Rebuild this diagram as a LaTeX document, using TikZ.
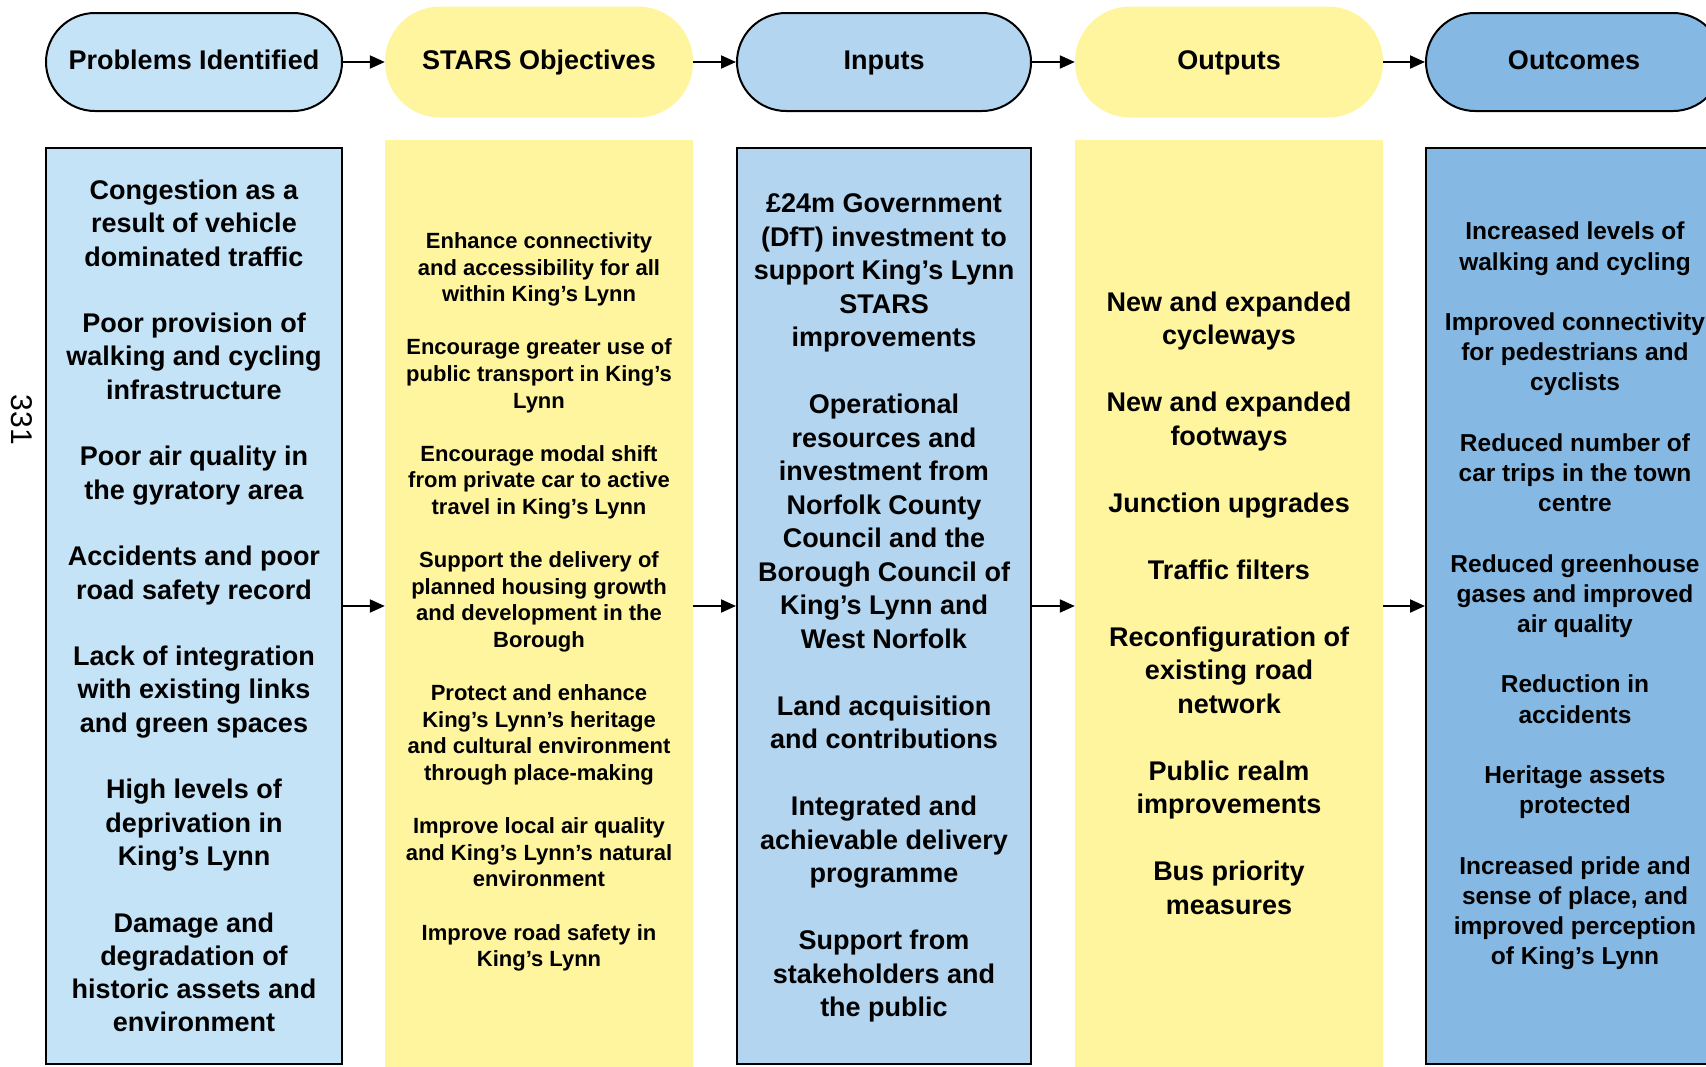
\documentclass[tikz,border=0pt]{standalone}
\usepackage{fontspec}
\setmainfont{Liberation Sans}
\usetikzlibrary{arrows.meta}
\definecolor{pblue}{HTML}{C4E3F6}
\definecolor{iblue}{HTML}{B3D5EF}
\definecolor{oblue}{HTML}{85B9E3}
\definecolor{syel}{HTML}{FFF59F}
\begin{document}
\begin{tikzpicture}[x=1pt,y=-1pt,
  pillbox/.style={draw=black,line width=2pt,inner sep=0pt,text height=20pt,text depth=6pt,font=\bfseries\fontsize{27}{33}\selectfont},
  ypill/.style={fill=syel,inner sep=0pt,text height=20pt,text depth=6pt,font=\bfseries\fontsize{27}{33}\selectfont},
  colbox/.style={draw=black,line width=2pt,inner sep=0pt},
  ycolbox/.style={fill=syel,inner sep=0pt},
  bigtext/.style={align=center,inner sep=0pt,font=\bfseries\fontsize{27}{33.3}\selectfont},
  smalltext/.style={align=center,inner sep=0pt,font=\bfseries\fontsize{22}{26.6}\selectfont},
  midtext/.style={align=center,inner sep=0pt,font=\bfseries\fontsize{24.5}{30.2}\selectfont},
  arr/.style={line width=2pt,-{Triangle[length=15pt,width=13pt]}}]
\useasboundingbox (0,0) rectangle (1706,1066);
\clip (0,0) rectangle (1706,1066);
% header pills
\node[pillbox,fill=pblue,minimum width=296pt,minimum height=98pt,rounded corners=49pt] (h1) at (194,62) {Problems Identified};
\node[ypill,minimum width=308pt,minimum height=111pt,rounded corners=55pt] (h2) at (539,62) {STARS Objectives};
\node[pillbox,fill=iblue,minimum width=294pt,minimum height=98pt,rounded corners=49pt] (h3) at (884,62) {Inputs};
\node[ypill,minimum width=308pt,minimum height=111pt,rounded corners=55pt] (h4) at (1229,62) {Outputs};
\node[pillbox,fill=oblue,minimum width=296pt,minimum height=98pt,rounded corners=49pt,text width=296pt,align=center] (h5) at (1574,62) {Outcomes};
\draw[arr] (h1.east) -- (h2.west);
\draw[arr] (h2.east) -- (h3.west);
\draw[arr] (h3.east) -- (h4.west);
\draw[arr] (h4.east) -- (h5.west);
% column boxes
\node[colbox,fill=pblue,minimum width=296pt,minimum height=916pt] (b1) at (194,606) {};
\node[ycolbox,minimum width=308pt,minimum height=932pt] (b2) at (539,606) {};
\node[colbox,fill=iblue,minimum width=294pt,minimum height=916pt] (b3) at (884,606) {};
\node[ycolbox,minimum width=308pt,minimum height=932pt] (b4) at (1229,606) {};
\node[colbox,fill=oblue,minimum width=296pt,minimum height=916pt] (b5) at (1574,606) {};
\draw[arr] (b1.east) -- (b2.west);
\draw[arr] (b2.east) -- (b3.west);
\draw[arr] (b3.east) -- (b4.west);
\draw[arr] (b4.east) -- (b5.west);
% column texts
\node[bigtext] (t1) at (194,606) {Congestion as a\\result of vehicle\\dominated traffic\\[33.3pt]
Poor provision of\\walking and cycling\\infrastructure\\[33.3pt]
Poor air quality in\\the gyratory area\\[33.3pt]
Accidents and poor\\road safety record\\[33.3pt]
Lack of integration\\with existing links\\and green spaces\\[33.3pt]
High levels of\\deprivation in\\King's Lynn\\[33.3pt]
Damage and\\degradation of\\historic assets and\\environment};
\node[smalltext] (t2) at (539,602) {Enhance connectivity\\and accessibility for all\\within King's Lynn\\[26.6pt]
Encourage greater use of\\public transport in King's\\Lynn\\[26.6pt]
Encourage modal shift\\from private car to active\\travel in King's Lynn\\[26.6pt]
Support the delivery of\\planned housing growth\\and development in the\\Borough\\[26.6pt]
Protect and enhance\\King's Lynn's heritage\\and cultural environment\\through place-making\\[26.6pt]
Improve local air quality\\and King's Lynn's natural\\environment\\[26.6pt]
Improve road safety in\\King's Lynn};
\node[bigtext,font=\bfseries\fontsize{27}{33.5}\selectfont] (t3) at (884,608) {£24m Government\\(DfT) investment to\\support King's Lynn\\STARS\\improvements\\[33.5pt]
Operational\\resources and\\investment from\\Norfolk County\\Council and the\\Borough Council of\\King's Lynn and\\West Norfolk\\[33.5pt]
Land acquisition\\and contributions\\[33.5pt]
Integrated and\\achievable delivery\\programme\\[33.5pt]
Support from\\stakeholders and\\the public};
\node[bigtext,font=\bfseries\fontsize{27}{33.5}\selectfont] (t4) at (1229,603) {New and expanded\\cycleways\\[33.5pt]
New and expanded\\footways\\[33.5pt]
Junction upgrades\\[33.5pt]
Traffic filters\\[33.5pt]
Reconfiguration of\\existing road\\network\\[33.5pt]
Public realm\\improvements\\[33.5pt]
Bus priority\\measures};
\node[midtext] (t5) at (1575,596) {Increased levels of\\walking and cycling\\[30.2pt]
Improved connectivity\\for pedestrians and\\cyclists\\[30.2pt]
Reduced number of\\car trips in the town\\centre\\[30.2pt]
Reduced greenhouse\\gases and improved\\air quality\\[30.2pt]
Reduction in\\accidents\\[30.2pt]
Heritage assets\\protected\\[30.2pt]
Increased pride and\\sense of place, and\\improved perception\\of King's Lynn};
% page number
\node[rotate=-90,inner sep=0pt,font=\fontsize{30}{30}\selectfont] (pg) at (22,420) {331};
\end{tikzpicture}
\end{document}
